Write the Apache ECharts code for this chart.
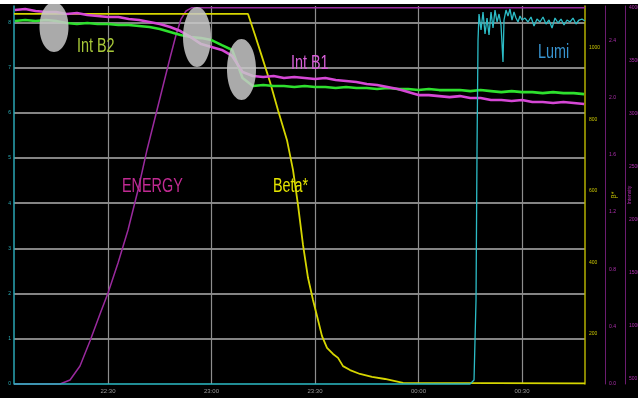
<!DOCTYPE html>
<html><head><meta charset="utf-8">
<script src="https://cdn.jsdelivr.net/npm/echarts@6/dist/echarts.min.js"></script>
<style>html,body{margin:0;padding:0;background:#000;}#c{width:638px;height:398px;}</style>
</head><body><div id="c"></div>
<script>
// x: minutes relative to first labelled tick
var xTicks = [0, 30, 60, 90, 120];
var xTickLabels = ['22:30', '23:00', '23:30', '00:00', '00:30'];
var lumiTicks = [0, 1, 2, 3, 4, 5, 6, 7, 8];
var betaTicks = [200, 400, 600, 800, 1000];
var intTicks = [0, 0.4, 0.8, 1.2, 1.6, 2.0, 2.4];
var energyTicks = [500, 1000, 1500, 2000, 2500, 3000, 3500, 4000];

var lumiTime = [-27.25, 104.93, 106.09, 106.67, 106.96, 107.25, 107.54, 108.12, 108.70, 109.28, 109.86, 110.44, 111.02, 111.60, 112.18, 112.76, 113.34, 113.92, 114.49, 114.78, 115.36, 115.94, 116.52, 117.10, 117.68, 118.26, 118.84, 119.42, 120.00, 120.87, 121.74, 122.61, 123.48, 124.35, 125.22, 126.09, 126.96, 127.83, 128.70, 129.57, 130.44, 131.31, 132.18, 133.05, 133.92, 134.78, 135.65, 136.52, 137.39, 138.26];
var lumiValue = [0, 0, 0.09, 1.86, 5.18, 7.61, 8.186, 7.832, 8.230, 7.743, 8.097, 7.721, 8.230, 7.876, 8.274, 8.009, 8.186, 7.942, 7.124, 8.053, 8.274, 8.142, 8.296, 8.053, 8.230, 8.097, 8.009, 8.142, 8.053, 8.097, 8.009, 8.119, 7.920, 8.075, 8.009, 8.119, 7.965, 8.053, 7.876, 8.097, 7.987, 8.075, 7.942, 8.053, 8.009, 8.097, 7.965, 8.053, 8.075, 8.031];

var energyTime = [-27.25, -13.91, -11.01, -8.12, -5.22, -2.32, 0, 2.90, 5.80, 8.70, 11.30, 13.62, 15.65, 17.97, 19.71, 21.16, 22.61, 24.35, 138.26];
var energyValue = [450, 450, 488, 620, 856, 1110, 1308, 1592, 1903, 2280, 2658, 2959, 3224, 3525, 3742, 3893, 3969, 4000, 4000];

var betaTime = [-27.25, 40.58, 42.61, 44.64, 46.96, 49.28, 51.88, 53.62, 55.07, 56.52, 57.97, 59.42, 60.87, 62.03, 63.48, 65.22, 66.67, 68.12, 70.15, 73.04, 76.52, 80.29, 85.51, 138.26];
var betaValue = [1095, 1095, 1036, 975, 905, 826, 742, 659, 561, 449, 357, 295, 239, 194, 161, 144, 133, 110, 99, 88, 80, 74, 63, 62];

var intTime = [-27, -24, -21, -18, -15, -12, -9, -6, -3, 0, 3, 6, 9, 12, 15, 18, 21, 24, 27, 30, 33, 36, 39, 42, 45, 48, 51, 54, 57, 60, 63, 66, 69, 72, 75, 78, 81, 84, 87, 90, 93, 96, 99, 102, 105, 108, 111, 114, 117, 120, 123, 126, 129, 132, 135, 138];
var intB1 = [2.611, 2.618, 2.604, 2.597, 2.597, 2.583, 2.590, 2.576, 2.569, 2.562, 2.562, 2.548, 2.541, 2.527, 2.513, 2.492, 2.464, 2.422, 2.373, 2.353, 2.332, 2.290, 2.178, 2.150, 2.143, 2.150, 2.136, 2.143, 2.136, 2.129, 2.136, 2.122, 2.115, 2.108, 2.094, 2.087, 2.073, 2.059, 2.038, 2.017, 2.017, 2.010, 2.003, 2.010, 1.997, 1.997, 1.983, 1.983, 1.976, 1.983, 1.969, 1.969, 1.962, 1.969, 1.962, 1.955];
var intB2 = [2.534, 2.541, 2.534, 2.541, 2.534, 2.520, 2.513, 2.520, 2.513, 2.513, 2.506, 2.506, 2.499, 2.492, 2.478, 2.457, 2.436, 2.422, 2.415, 2.401, 2.366, 2.332, 2.136, 2.080, 2.087, 2.080, 2.080, 2.073, 2.080, 2.073, 2.073, 2.066, 2.073, 2.066, 2.066, 2.059, 2.066, 2.059, 2.059, 2.052, 2.059, 2.052, 2.052, 2.052, 2.045, 2.052, 2.045, 2.038, 2.045, 2.038, 2.038, 2.031, 2.038, 2.031, 2.031, 2.024];

function pairs(t, v) { return t.map(function (x, i) { return [x, v[i]]; }); }
function plain(v) { return String(v); }

var chart = echarts.init(document.getElementById('c'), null, { renderer: 'canvas' });
var labelFont = "'Liberation Sans', Arial, sans-serif";
function label(text, x, y, color) {
  return { type: 'text', x: x, y: y, scaleX: 0.72, z: 45,
    style: { text: text, fill: color, font: '20px ' + labelFont, verticalAlign: 'middle' } };
}

chart.setOption({
  animation: false,
  backgroundColor: '#000',
  grid: { left: 14, right: 53, top: 6, bottom: 14, outerBoundsMode: 'none', containLabel: false },
  xAxis: {
    type: 'value', min: -27.25, max: 138.26,
    axisLine: { show: false },
    axisTick: { show: false, customValues: xTicks },
    splitLine: { show: true, lineStyle: { color: '#8e8e8e', width: 1.2 } },
    axisLabel: { customValues: xTicks, fontSize: 6, color: '#9a9a9a', margin: 4,
      formatter: function (v) { return xTickLabels[xTicks.indexOf(v)]; } }
  },
  yAxis: [
    { type: 'value', position: 'left', min: 0, max: 8.363,
      axisLine: { show: true, onZero: false, lineStyle: { color: '#2aa6b4', width: 1.5 } },
      axisTick: { show: false, customValues: [1, 2, 3, 4, 5, 6, 7, 8] },
      splitLine: { show: true, lineStyle: { color: '#b0b0b0', width: 1.6 } },
      axisLabel: { customValues: lumiTicks, fontSize: 5, color: '#2ab0bc', margin: 3, formatter: plain },
      name: 'LUMI', nameLocation: 'middle', nameRotate: 90, nameGap: 9,
      nameTextStyle: { fontSize: 5, color: '#2ab0bc' } },
    { type: 'value', position: 'right', offset: 0, min: 60, max: 1117.3,
      axisLine: { show: true, onZero: false, lineStyle: { color: '#b4b000', width: 1.5 } },
      axisTick: { show: false, customValues: betaTicks },
      splitLine: { show: false },
      axisLabel: { customValues: betaTicks, fontSize: 5, color: '#c8c400', margin: 4, formatter: plain },
      name: 'β*', nameLocation: 'middle', nameRotate: 90, nameGap: 14,
      nameTextStyle: { fontSize: 7, color: '#c8c400' } },
    { type: 'value', position: 'right', offset: 20, min: 0, max: 2.639,
      axisLine: { show: true, onZero: false, lineStyle: { color: '#6c1c70', width: 1 } },
      axisTick: { show: false, customValues: intTicks },
      splitLine: { show: false },
      axisLabel: { customValues: intTicks, fontSize: 5, color: '#b030b0', margin: 4,
        formatter: function (v) { return v.toFixed(1); } },
      name: 'Intensity', nameLocation: 'middle', nameRotate: 90, nameGap: 17,
      nameTextStyle: { fontSize: 5, color: '#b030b0' } },
    { type: 'value', position: 'right', offset: 40, min: 450, max: 4016,
      axisLine: { show: true, onZero: false, lineStyle: { color: '#6c1c70', width: 1 } },
      axisTick: { show: false, customValues: energyTicks },
      splitLine: { show: false },
      axisLabel: { customValues: energyTicks, fontSize: 5, color: '#b030b0', margin: 4, formatter: plain } }
  ],
  series: [
    { type: 'line', name: 'Energy', yAxisIndex: 3, data: pairs(energyTime, energyValue),
      showSymbol: false, clip: false, lineStyle: { color: '#9a2a9e', width: 1.5 }, z: 3 },
    { type: 'line', name: 'Beta*', yAxisIndex: 1, data: pairs(betaTime, betaValue),
      showSymbol: false, clip: false, lineStyle: { color: '#d6d600', width: 1.8 }, z: 3 },
    { type: 'line', name: 'Int B2', yAxisIndex: 2, data: pairs(intTime, intB2),
      showSymbol: false, clip: false, lineStyle: { color: '#2ee02e', width: 2.6 }, z: 4 },
    { type: 'line', name: 'Int B1', yAxisIndex: 2, data: pairs(intTime, intB1),
      showSymbol: false, clip: false, lineStyle: { color: '#d648d6', width: 2.6 }, z: 4 },
    { type: 'line', name: 'Lumi', yAxisIndex: 0, data: pairs(lumiTime, lumiValue),
      showSymbol: false, clip: false, lineStyle: { color: '#2cbcc6', width: 1.3 }, z: 5 }
  ],
  graphic: [
    { type: 'rect', shape: { x: 0, y: 0, width: 638, height: 4 }, style: { fill: '#ffffff' }, z: 50 },
    { type: 'ellipse', shape: { cx: 54, cy: 27, rx: 14.5, ry: 25 }, style: { fill: 'rgba(200,200,200,0.85)' }, z: 40 },
    { type: 'ellipse', shape: { cx: 197, cy: 37, rx: 14, ry: 30 }, style: { fill: 'rgba(200,200,200,0.85)' }, z: 40 },
    { type: 'ellipse', shape: { cx: 241.5, cy: 69.5, rx: 14.5, ry: 30.5 }, style: { fill: 'rgba(200,200,200,0.85)' }, z: 40 },
    label('Int B2', 77, 46, '#a8c838'),
    label('Int B1', 291, 63, '#d860d8'),
    label('Lumi', 538, 52, '#3894d0'),
    label('ENERGY', 122, 186, '#c02a92'),
    label('Beta*', 273, 186, '#e4e400')
  ]
});
</script></body></html>
